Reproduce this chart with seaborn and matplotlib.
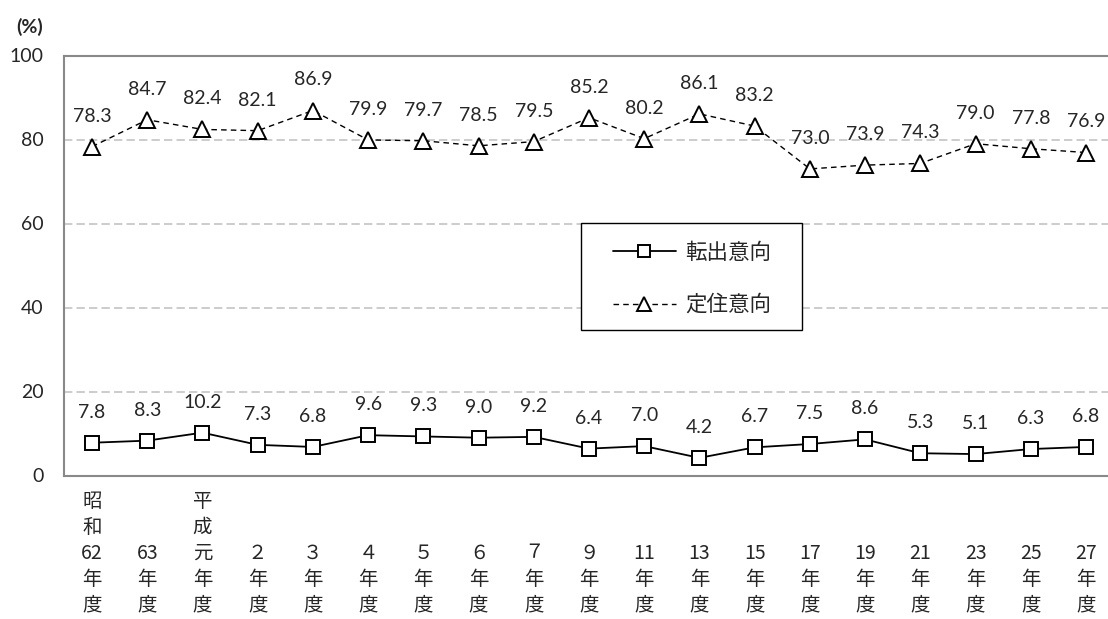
import matplotlib
matplotlib.use("Agg")
import matplotlib.pyplot as plt
from matplotlib.patches import Rectangle
import seaborn as sns
import pandas as pd

# Survey years (labels are stacked vertically, one character per line)
years = ["昭和62年度", "63年度", "平成元年度", "２年度", "３年度", "４年度", "５年度",
         "６年度", "７年度", "９年度", "11年度", "13年度", "15年度", "17年度",
         "19年度", "21年度", "23年度", "25年度", "27年度"]
move_out = [7.8, 8.3, 10.2, 7.3, 6.8, 9.6, 9.3, 9.0, 9.2, 6.4, 7.0, 4.2,
            6.7, 7.5, 8.6, 5.3, 5.1, 6.3, 6.8]
settle = [78.3, 84.7, 82.4, 82.1, 86.9, 79.9, 79.7, 78.5, 79.5, 85.2, 80.2,
          86.1, 83.2, 73.0, 73.9, 74.3, 79.0, 77.8, 76.9]
series_names = ["転出意向", "定住意向"]
y_ticks = [0, 20, 40, 60, 80, 100]

sns.set_style("white")
plt.rcParams["font.family"] = ["Noto Sans CJK JP", "DejaVu Sans"]

NUM_FONT = ["Lato", "DejaVu Sans"]


def stack_label(s):
    """Split a year label into lines: era name chars, number, 年, 度."""
    parts = []
    i = 0
    while i < len(s):
        ch = s[i]
        if ch.isascii() and ch.isdigit():
            j = i
            while j < len(s) and s[j].isascii() and s[j].isdigit():
                j += 1
            parts.append(s[i:j])
            i = j
        else:
            parts.append(ch)
            i += 1
    parts = [""] * (5 - len(parts)) + parts
    return "\n".join(parts)


df = pd.DataFrame({"pos": range(len(years)), series_names[0]: move_out,
                   series_names[1]: settle})

W, H = 1108, 619
fig = plt.figure(figsize=(W / 100, H / 100), dpi=100)
ax = fig.add_axes([64.4 / W, (H - 475.5) / H, 1049.2 / W, 420 / H])

sns.lineplot(data=df, x="pos", y=series_names[0], ax=ax, color="black",
             linewidth=1.3, marker="s", markersize=9.5, markerfacecolor="white",
             markeredgecolor="black", markeredgewidth=1.4, label=series_names[0])
sns.lineplot(data=df, x="pos", y=series_names[1], ax=ax, color="black",
             linewidth=1.0, marker="^", markersize=11, markerfacecolor="white",
             markeredgecolor="black", markeredgewidth=1.4, label=series_names[1])
ax.lines[1].set_dashes((4, 3))

# value labels above each point
for vals in (move_out, settle):
    for i, v in enumerate(vals):
        ax.annotate(f"{v:.1f}", (i, v), xytext=(0, 22), textcoords="offset points",
                    ha="center", va="center", fontsize=14, family=NUM_FONT)

ax.set_xlim(-0.5, len(years) - 0.5)
ax.set_ylim(0, 100)
ax.set_yticks(y_ticks)
ax.set_yticklabels([str(t) for t in y_ticks], family=NUM_FONT, fontsize=14)
ax.set_xticks(range(len(years)))
ax.set_xticklabels([stack_label(y) for y in years], fontsize=14, linespacing=1.31)
ax.tick_params(axis="x", length=0, pad=11)
ax.tick_params(axis="y", length=0, pad=15)
ax.set_xlabel("")
ax.set_ylabel("")

for y in y_ticks[1:-1]:
    ax.axhline(y, color="#c3c3c3", linewidth=1.2, linestyle=(0, (5, 2.5)), zorder=0)
for side in ["left", "bottom", "top", "right"]:
    ax.spines[side].set_color("#898989")
    ax.spines[side].set_linewidth(1.5)

fig.text(43 / W, 1 - 27 / H, "(%)", ha="right", va="center", fontsize=14,
         fontweight="bold", family=NUM_FONT)

# legend box: white panel with black border, entries centred inside
ax.add_patch(Rectangle((0.4921, 0.3464), 0.2109, 0.2548, transform=ax.transAxes,
                       facecolor="white", edgecolor="black", linewidth=1.0,
                       zorder=4))
leg = ax.legend(loc="center", bbox_to_anchor=(0.5985, 0.4679), frameon=False,
                fontsize=15.5, handlelength=2.9, handletextpad=0.47,
                labelspacing=1.4, borderpad=0, borderaxespad=0, markerscale=0.9)
leg.set_zorder(5)

fig.savefig("out.png", dpi=100)
